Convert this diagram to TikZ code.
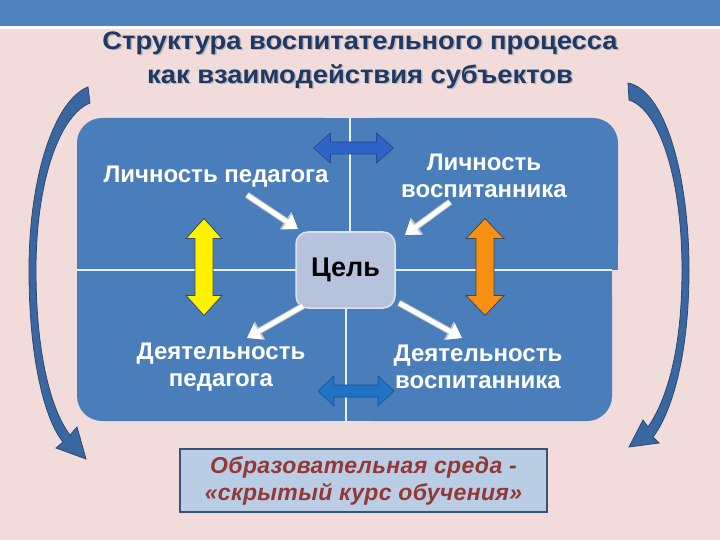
\documentclass[tikz,border=0pt]{standalone}
\usepackage{fontspec}
\setmainfont{Liberation Sans}
\usetikzlibrary{arrows.meta}
\definecolor{bgpink}{HTML}{F2DCDB}
\definecolor{band}{HTML}{4F81BD}
\definecolor{quadc}{HTML}{4A7EBB}
\definecolor{quadedge}{HTML}{EAF0F8}
\definecolor{titlec}{HTML}{1F3864}
\definecolor{goalfill}{HTML}{B7C2DC}
\definecolor{goaledge}{HTML}{DCE3F0}
\definecolor{boxfill}{HTML}{B9CDE5}
\definecolor{boxline}{HTML}{3B5278}
\definecolor{redtext}{HTML}{953735}
\definecolor{curvec}{HTML}{3A67A0}
\definecolor{curveline}{HTML}{2A4A74}
\definecolor{topblue}{HTML}{2E64C8}
\definecolor{botblue}{HTML}{1F72C4}
\definecolor{orangec}{HTML}{F79010}
\definecolor{arrowline}{HTML}{3A4A5A}
\tikzset{
  quad/.style={fill=quadc},
  divider/.style={draw=quadedge, line width=2.2pt},
  qtext/.style={text=white, font=\fontsize{24}{27}\selectfont\bfseries, align=center},
  titletext/.style={font=\fontsize{25.3}{34}\selectfont\bfseries\addfontfeatures{FakeStretch=1.08}, align=center},
  warrowbg/.style={draw=gray!45, line width=6.5pt, -{Triangle[length=15pt,width=20pt]}},
  warrow/.style={draw=white, line width=4.5pt, -{Triangle[length=13pt,width=17pt]}},
  curvearrow/.style={fill=curvec, draw=curveline, line width=0.8pt},
  pics/dbla/.style n args={4}{code={%
    \path[pic actions] (-#1,0) -- (-#1+#2,-#3) -- (-#1+#2,-#4) -- (#1-#2,-#4) -- (#1-#2,-#3) -- (#1,0)
      -- (#1-#2,#3) -- (#1-#2,#4) -- (-#1+#2,#4) -- (-#1+#2,#3) -- cycle;}}
}
\begin{document}
\begin{tikzpicture}[x=1pt,y=-1pt]
\useasboundingbox (0,0) rectangle (720,540);
% background
\fill[bgpink] (0,0) rectangle (720,540);
\fill[band] (0,0) rectangle (720,26);
\fill[white] (0,26) rectangle (720,29);
% title
\node[titletext, text=gray!55] (titleshadow) at (361.5,61.5)
  {Структура воспитательного процесса\\как взаимодействия субъектов};
\node[titletext, text=titlec] (title) at (360,60)
  {Структура воспитательного процесса\\как взаимодействия субъектов};
% quadrants
\fill[quad, rounded corners=25] (77,118) rectangle (350,270);
\fill[quad] (102,118) rectangle (350,270);
\fill[quad] (77,143) rectangle (350,270);
\fill[quad, rounded corners=25] (350,118) rectangle (618,270);
\fill[quad] (350,118) rectangle (593,270);
\fill[quad] (350,143) rectangle (618,270);
\fill[quad, rounded corners=25] (77,270) rectangle (346,421);
\fill[quad] (102,270) rectangle (346,421);
\fill[quad] (77,270) rectangle (346,396);
\fill[quad, rounded corners=25] (346,270) rectangle (612,421);
\fill[quad] (346,270) rectangle (587,421);
\fill[quad] (346,270) rectangle (612,396);
\draw[divider] (350,118) -- (350,270);
\draw[divider] (346,270) -- (346,421);
\draw[divider] (77,270) -- (612,270);
% texts
\node[qtext] (lp) at (216,177) {Личность педагога};
\node[qtext] (lv) at (484,176) {Личность\\воспитанника};
\node[qtext] (dp) at (221,367) {Деятельность\\педагога};
\node[qtext] (dv) at (478,367) {Деятельность\\воспитанника};
% goal
\node[fill=goalfill, draw=goaledge, line width=1.5pt, rounded corners=12, minimum width=99, minimum height=76,
  font=\fontsize{27}{30}\selectfont\bfseries, text=black] (goal) at (345.5,270) {Цель};
% white arrows
\coordinate (a1s) at (247,195); \coordinate (a1e) at (298,229);
\coordinate (a2s) at (450,202); \coordinate (a2e) at (405,235);
\coordinate (a3s) at (303,306); \coordinate (a3e) at (247,338);
\coordinate (a4s) at (399,303); \coordinate (a4e) at (462,338);
\foreach \s/\e in {a1s/a1e,a2s/a2e,a3s/a3e,a4s/a4e}{
  \draw[warrowbg] (\s) -- (\e);
  \draw[warrow] (\s) -- (\e);
}
% double arrows
\pic[fill=topblue, draw=topblue!70!black, line width=0.6pt] at (353.5,148) {dbla={40}{17}{15}{6}};
\pic[fill=botblue, draw=botblue!70!black, line width=0.6pt] at (356,391) {dbla={38}{16}{15}{6}};
\pic[fill=yellow, draw=arrowline, line width=0.8pt, rotate=90] at (204,267) {dbla={48.5}{20}{18}{9}};
\pic[fill=orangec, draw=arrowline, line width=0.8pt, rotate=90] at (485,267) {dbla={48.5}{20}{19}{9}};
% curved side arrows
\path[curvearrow] (88,87) .. controls (55,100) and (29,175) .. (29,270)
  .. controls (29,360) and (45,420) .. (63,442)
  -- (56,448) -- (86,459) -- (77,427) -- (70,435)
  .. controls (53,413) and (36,360) .. (36,270)
  .. controls (36,180) and (60,115) .. (90,103) -- cycle;
\path[curvearrow] (628,83) .. controls (665,90) and (689,175) .. (689,270)
  .. controls (689,360) and (670,415) .. (653,437)
  -- (659,443) -- (629,447) -- (643,420) -- (648,427)
  .. controls (663,405) and (682,360) .. (682,270)
  .. controls (682,180) and (660,110) .. (629,100) -- cycle;
% bottom box
\node[fill=boxfill, draw=boxline, line width=1.6pt, minimum width=367, minimum height=63, inner sep=0pt,
  text=redtext, align=center, font=\fontsize{23}{27}\selectfont\bfseries\itshape\addfontfeatures{LetterSpace=1.5}]
  (env) at (363.5,480.5) {Образовательная среда -\\«скрытый курс обучения»};
\end{tikzpicture}
\end{document}
